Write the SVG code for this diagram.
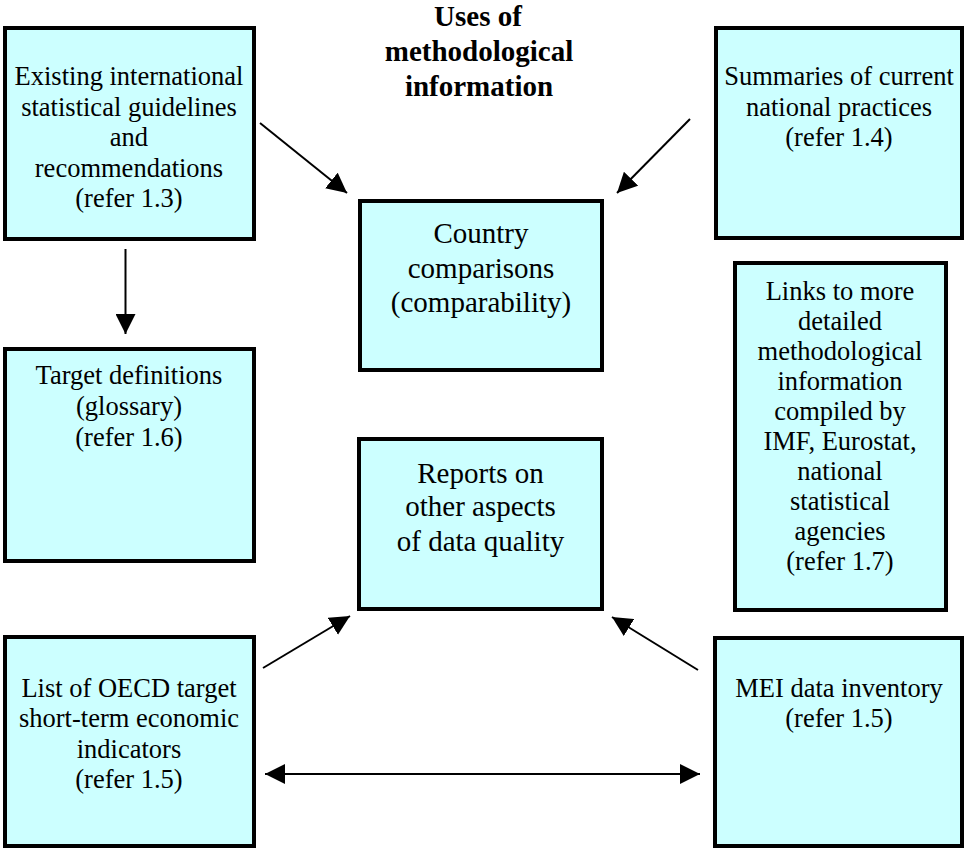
<svg xmlns="http://www.w3.org/2000/svg" width="965" height="849" viewBox="0 0 965 849">
<style>
  .box { fill: #CCFFFF; stroke: #000; stroke-width: 4; }
  .t { font-family: "Liberation Serif", "Times New Roman", serif; font-size: 26.5px; fill: #000; text-anchor: middle; }
  .tc { font-family: "Liberation Serif", "Times New Roman", serif; font-size: 29px; fill: #000; text-anchor: middle; }
  .title { font-family: "Liberation Serif", "Times New Roman", serif; font-size: 29px; font-weight: bold; fill: #000; text-anchor: middle; }
  .conn { stroke: #000; stroke-width: 2; fill: none; marker-end: url(#ah); }
  .dbl { marker-start: url(#ah); }
</style>
<defs>
  <marker id="ah" markerUnits="userSpaceOnUse" markerWidth="20" markerHeight="20" viewBox="0 0 20 20" refX="20" refY="10" orient="auto-start-reverse">
    <path d="M0,0 L20,10 L0,20 z" fill="#000"/>
  </marker>
</defs>
<rect width="965" height="849" fill="#fff"/>

<g id="title">
  <text class="title" x="478" y="26">Uses of</text>
  <text class="title" x="479" y="61">methodological</text>
  <text class="title" x="479" y="95.5">information</text>
</g>

<g id="existing">
  <rect class="box" x="5" y="28" width="249" height="211"/>
  <text class="t" x="129" y="85">Existing international</text>
  <text class="t" x="129" y="115.5">statistical guidelines</text>
  <text class="t" x="129" y="146">and</text>
  <text class="t" x="129" y="176.5">recommendations</text>
  <text class="t" x="129" y="207">(refer 1.3)</text>
</g>

<g id="summaries">
  <rect class="box" x="716" y="28" width="246" height="210"/>
  <text class="t" x="839" y="85">Summaries of current</text>
  <text class="t" x="839" y="115.5">national practices</text>
  <text class="t" x="839" y="146">(refer 1.4)</text>
</g>

<g id="country">
  <rect class="box" x="360" y="201" width="242" height="169"/>
  <text class="tc" x="481" y="243">Country</text>
  <text class="tc" x="481" y="277.5">comparisons</text>
  <text class="tc" x="481" y="312">(comparability)</text>
</g>

<g id="target">
  <rect class="box" x="5" y="349" width="249" height="212"/>
  <text class="t" x="129" y="384">Target definitions</text>
  <text class="t" x="129" y="415">(glossary)</text>
  <text class="t" x="129" y="446">(refer 1.6)</text>
</g>

<g id="links">
  <rect class="box" x="735" y="263" width="211" height="347"/>
  <text class="t" x="840" y="300">Links to more</text>
  <text class="t" x="840" y="330">detailed</text>
  <text class="t" x="840" y="360">methodological</text>
  <text class="t" x="840" y="390">information</text>
  <text class="t" x="840" y="420">compiled by</text>
  <text class="t" x="840" y="450">IMF, Eurostat,</text>
  <text class="t" x="840" y="480">national</text>
  <text class="t" x="840" y="510">statistical</text>
  <text class="t" x="840" y="540">agencies</text>
  <text class="t" x="840" y="570">(refer 1.7)</text>
</g>

<g id="reports">
  <rect class="box" x="359" y="439" width="243" height="170"/>
  <text class="tc" x="480.5" y="482.5">Reports on</text>
  <text class="tc" x="480.5" y="516">other aspects</text>
  <text class="tc" x="480.5" y="550.5">of data quality</text>
</g>

<g id="oecdlist">
  <rect class="box" x="5" y="637" width="249" height="209"/>
  <text class="t" x="129" y="697">List of OECD target</text>
  <text class="t" x="129" y="727">short-term economic</text>
  <text class="t" x="129" y="757.5">indicators</text>
  <text class="t" x="129" y="788">(refer 1.5)</text>
</g>

<g id="mei">
  <rect class="box" x="715" y="638" width="247" height="208"/>
  <text class="t" x="839" y="697">MEI data inventory</text>
  <text class="t" x="839" y="727">(refer 1.5)</text>
</g>

<g id="connectors">
  <line class="conn" x1="260" y1="123" x2="347" y2="193"/>
  <line class="conn" x1="690" y1="119" x2="617" y2="193"/>
  <line class="conn" x1="125.5" y1="249" x2="125.5" y2="334"/>
  <line class="conn" x1="263" y1="668" x2="350" y2="616"/>
  <line class="conn" x1="698" y1="670" x2="612" y2="617"/>
  <line class="conn dbl" x1="265" y1="774" x2="700" y2="774"/>
</g>
</svg>
